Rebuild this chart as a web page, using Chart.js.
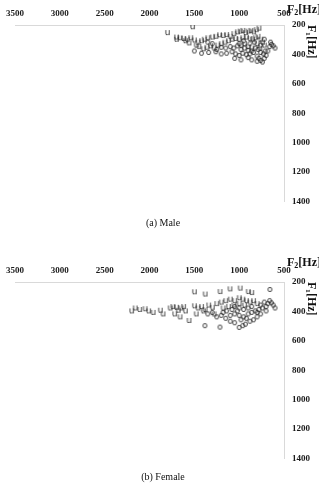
<!DOCTYPE html>
<html><head><meta charset="utf-8">
<script src="https://cdn.jsdelivr.net/npm/chart.js@4/dist/chart.umd.min.js"></script>
<style>
html,body{margin:0;padding:0;background:#fff;}
body{width:319px;height:483px;position:relative;overflow:hidden;font-family:"Liberation Serif","Times New Roman",serif;color:#111;}
.cv{position:absolute;left:0;width:319px;height:215px;}
.f2{position:absolute;left:287px;font-weight:bold;font-size:12px;line-height:12px;white-space:nowrap;}
.f2 sub{font-size:8px;vertical-align:-2px;line-height:0;}
.f1{position:absolute;left:306px;font-weight:bold;font-size:12px;line-height:12px;writing-mode:vertical-rl;white-space:nowrap;}
.cap{position:absolute;left:0;width:326px;text-align:center;font-size:10px;line-height:10px;}
</style></head>
<body>
<div class="cv" style="top:0"><canvas id="male"></canvas></div>
<div class="cv" style="top:257px"><canvas id="female"></canvas></div>
<div class="f2" style="top:3px">F<sub>2</sub>[Hz]</div>
<div class="f1" style="top:25px">F₁[Hz]</div>
<div class="f2" style="top:256px">F<sub>2</sub>[Hz]</div>
<div class="f1" style="top:282px">F₁[Hz]</div>
<div class="cap" style="top:218px">(a) Male</div>
<div class="cap" style="top:472px">(b) Female</div>
<script>
// ---- data (F2 Hz, F1 Hz) ----
const f2Ticks = [3500, 3000, 2500, 2000, 1500, 1000, 500];
const f1Ticks = [200, 400, 600, 800, 1000, 1200, 1400];

const maleU_F2 = [1800,1520,1700,1660,1620,1580,1540,1500,1460,1420,1390,1350,1300,1260,1220,1180,1140,1100,1060,1020,990,960,930,900,870,840,810,780,1450,1400,1360,1320,1280,1240,1200,1160,1120,1080,1040,1000,960,920,880,850,820,790,760,740,720,1600,1560,1480,1700,980,940,900,860,800,770];
const maleU_F1 = [255,215,285,290,295,300,290,305,320,310,300,290,285,280,270,275,268,280,262,250,245,240,255,245,240,250,235,225,350,365,355,345,360,340,330,320,310,300,295,300,290,285,295,300,290,280,300,320,340,310,325,340,300,340,330,350,360,330,360];

const maleO_F2 = [1500,1420,1340,1260,1200,1140,1080,1040,1000,960,920,880,840,800,780,760,740,720,700,680,660,640,620,600,650,1100,1060,1020,980,940,900,860,820,790,760,730,710,1150,1200,1250,1300,1350,1000,950,880,830,760,720,1050,980,900,860,800];
const maleO_F1 = [380,395,390,385,400,395,385,400,410,395,405,400,390,415,430,445,455,430,410,380,350,335,345,360,320,350,360,345,370,360,375,380,360,370,390,400,380,360,355,370,330,320,330,310,330,320,340,300,430,440,425,440,450];

const femaleU_F2 = [2200,2160,2110,2050,2010,1960,1880,1850,1770,1740,1700,1680,1650,1620,1600,1660,1560,1500,1380,1500,1460,1420,1380,1340,1300,1214,1103,990,900,860,1250,1200,1150,1100,1050,1000,960,920,880,840,800,1180,1120,1060,1000,940,1720,1480,1280,1400];
const femaleU_F1 = [400,380,390,385,400,410,395,420,380,370,375,395,380,370,400,440,465,270,285,365,380,370,390,360,375,268,250,245,268,275,350,340,330,320,330,310,320,330,340,330,350,380,370,360,350,360,420,420,420,400];

const femaleO_F2 = [657,1382,1214,1000,960,930,1050,1100,1150,1200,1250,1300,1350,1050,1000,950,900,860,820,780,740,700,680,660,640,620,600,700,760,800,840,880,920,980,1020,1080,1140,1180,900,860,950,1000,1050,1100,800,760,720];
const femaleO_F1 = [254,500,510,512,500,490,480,470,450,430,440,410,420,420,430,440,420,410,400,390,380,370,350,330,345,360,380,400,420,440,460,470,450,460,400,390,400,410,380,370,390,380,370,430,410,360,340];

function pts(xs, ys){ return xs.map((x,i)=>({x:x, y:ys[i]})); }

function glyph(ch){
  const c = document.createElement('canvas');
  c.width = 9; c.height = 10;
  const g = c.getContext('2d');
  g.fillStyle = '#262626';
  g.font = '9px "DejaVu Sans"';
  g.textAlign = 'center';
  g.textBaseline = 'middle';
  g.fillText(ch, 4.5, 5);
  return c;
}
const uImg = glyph('u'), oImg = glyph('o');

const tickFont = { family: '"Liberation Serif"', size: 9, weight: 'bold' };
const plain = v => String(v);

function makeChart(id, uX, uY, oX, oY){
  return new Chart(document.getElementById(id), {
    type: 'scatter',
    data: { datasets: [
      { label: 'u', data: pts(uX, uY), pointStyle: uImg, pointRadius: 4 },
      { label: 'o', data: pts(oX, oY), pointStyle: oImg, pointRadius: 4 }
    ]},
    options: {
      responsive: true, maintainAspectRatio: false, animation: false,
      layout: { padding: { left: 15, right: 0, top: 0, bottom: 13 } },
      plugins: { legend: { display: false }, tooltip: { enabled: false } },
      events: [],
      scales: {
        x: {
          type: 'linear', position: 'top', reverse: true,
          min: 500, max: 3500,
          afterBuildTicks: s => { s.ticks = f2Ticks.map(v => ({value: v})); },
          afterFit: s => { s.height = 25; },
          grid: { display: false, drawTicks: false },
          border: { display: true, color: '#d9d9d9', width: 1 },
          ticks: { autoSkip: false, maxRotation: 0, padding: 6, color: '#1a1a1a',
                   font: tickFont, callback: plain }
        },
        y: {
          type: 'linear', position: 'right', reverse: true,
          min: 200, max: 1400,
          afterBuildTicks: s => { s.ticks = f1Ticks.map(v => ({value: v})); },
          afterFit: s => { s.width = 35; },
          grid: { display: false, drawTicks: false },
          border: { display: true, color: '#d9d9d9', width: 1 },
          ticks: { padding: 8, color: '#1a1a1a', font: tickFont, callback: plain }
        }
      }
    }
  });
}
makeChart('male', maleU_F2, maleU_F1, maleO_F2, maleO_F1);
makeChart('female', femaleU_F2, femaleU_F1, femaleO_F2, femaleO_F1);
</script>
</body></html>
